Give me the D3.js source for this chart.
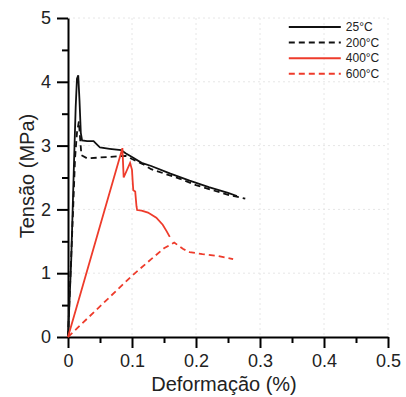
<!DOCTYPE html>
<html>
<head>
    <meta charset="utf-8">
    <title>Tensão x Deformação</title>
    <script src="https://d3js.org/d3.v7.min.js"></script>
    <style>
        body { margin: 0; background: #fff; }
        text { font-family: "Liberation Sans", Arial, sans-serif; }
    </style>
</head>
<body>
    <svg id="chart"></svg>

    <script>
        // curves: [deformação (%), tensão (MPa)]
        const s25 = [
            [0, 0], [0.005, 1.2], [0.009, 2.6], [0.012, 3.6], [0.014, 4.05], [0.016, 4.1],
            [0.018, 3.7], [0.02, 3.2], [0.022, 3.08], [0.03, 3.07], [0.04, 3.07], [0.045, 3.02],
            [0.05, 2.97], [0.065, 2.95], [0.083, 2.93], [0.09, 2.88], [0.1, 2.82], [0.115, 2.73],
            [0.13, 2.68], [0.16, 2.56], [0.19, 2.45], [0.22, 2.35], [0.25, 2.26], [0.264, 2.21]
        ];
        const s200 = [
            [0, 0], [0.004, 1.0], [0.008, 2.0], [0.011, 2.8], [0.014, 3.2], [0.017, 3.38],
            [0.019, 3.1], [0.021, 2.85], [0.03, 2.8], [0.06, 2.82], [0.09, 2.84], [0.1, 2.79],
            [0.117, 2.71], [0.13, 2.63], [0.175, 2.48], [0.2, 2.38], [0.253, 2.22], [0.277, 2.17]
        ];
        const s400 = [
            [0, 0], [0.085, 2.96], [0.087, 2.5], [0.097, 2.73], [0.1, 2.62], [0.101, 2.45],
            [0.102, 2.3], [0.105, 2.28], [0.107, 2.05], [0.108, 1.99], [0.115, 1.98],
            [0.125, 1.95], [0.138, 1.87], [0.148, 1.76], [0.154, 1.66], [0.159, 1.57]
        ];
        const s600 = [
            [0, 0], [0.05, 0.48], [0.1, 0.96], [0.13, 1.22], [0.15, 1.39], [0.166, 1.48],
            [0.18, 1.38], [0.19, 1.33], [0.21, 1.3], [0.235, 1.27], [0.258, 1.22]
        ];

        const seriesNames = ["25°C", "200°C", "400°C", "600°C"];
        const xTicks = [0, 0.1, 0.2, 0.3, 0.4, 0.5];
        const yTicks = [0, 1, 2, 3, 4, 5];

        const series = [
            { name: seriesNames[0], values: s25, color: "#111", dash: null },
            { name: seriesNames[1], values: s200, color: "#111", dash: "6,4" },
            { name: seriesNames[2], values: s400, color: "#ee3b2b", dash: null },
            { name: seriesNames[3], values: s600, color: "#ee3b2b", dash: "6,4" }
        ];

        const W = 406, H = 397;
        const margin = { top: 18, right: 18, bottom: 60, left: 68 };
        const width = W - margin.left - margin.right;
        const height = H - margin.top - margin.bottom;

        const svg = d3.select("#chart")
            .attr("width", W)
            .attr("height", H);

        const g = svg.append("g")
            .attr("transform", `translate(${margin.left},${margin.top})`);

        const x = d3.scaleLinear().domain([0, 0.5]).range([0, width]);
        const y = d3.scaleLinear().domain([0, 5]).range([height, 0]);

        // faint dotted grid
        g.append("g")
            .selectAll("line")
            .data(xTicks.slice(1))
            .join("line")
            .attr("x1", d => x(d)).attr("x2", d => x(d))
            .attr("y1", 0).attr("y2", height)
            .attr("stroke", "#e6e6e6")
            .attr("stroke-dasharray", "2,3");
        g.append("g")
            .selectAll("line")
            .data(yTicks.slice(1))
            .join("line")
            .attr("x1", 0).attr("x2", width)
            .attr("y1", d => y(d)).attr("y2", d => y(d))
            .attr("stroke", "#e6e6e6")
            .attr("stroke-dasharray", "2,3");

        // minor ticks
        g.append("g")
            .attr("transform", `translate(0,${height})`)
            .call(d3.axisBottom(x).tickValues(d3.range(0.05, 0.5, 0.1)).tickSize(6).tickFormat(""))
            .call(a => a.select(".domain").remove())
            .selectAll("line").attr("stroke-width", 2);
        g.append("g")
            .call(d3.axisLeft(y).tickValues(d3.range(0.5, 5, 1)).tickSize(6).tickFormat(""))
            .call(a => a.select(".domain").remove())
            .selectAll("line").attr("stroke-width", 2);

        // major axes
        const xAxis = g.append("g")
            .attr("transform", `translate(0,${height})`)
            .call(d3.axisBottom(x).tickValues(xTicks).tickSize(11).tickPadding(6)
                .tickFormat(d => d === 0 ? "0" : d3.format(".1f")(d)).tickSizeOuter(0));
        const yAxis = g.append("g")
            .call(d3.axisLeft(y).tickValues(yTicks).tickSize(11).tickPadding(6)
                .tickFormat(d3.format("d")).tickSizeOuter(0));

        [xAxis, yAxis].forEach(a => {
            a.select(".domain").attr("stroke-width", 2);
            a.selectAll(".tick line").attr("stroke-width", 2);
            a.selectAll("text")
                .attr("font-size", 18)
                .attr("fill", "#222")
                .style("font-family", "'Liberation Sans', Arial, sans-serif");
        });

        // curves
        const line = d3.line()
            .x(d => x(d[0]))
            .y(d => y(d[1]));

        g.selectAll(".curve")
            .data(series)
            .join("path")
            .attr("class", "curve")
            .attr("d", d => line(d.values))
            .attr("fill", "none")
            .attr("stroke", d => d.color)
            .attr("stroke-width", 1.8)
            .attr("stroke-dasharray", d => d.dash);

        // legend
        const legend = g.append("g")
            .attr("transform", `translate(${x(0.345)},${y(4.86)})`);
        const items = legend.selectAll("g")
            .data(series)
            .join("g")
            .attr("transform", (d, i) => `translate(0,${i * 15.6})`);
        items.append("line")
            .attr("x1", 0).attr("x2", 52)
            .attr("stroke", d => d.color)
            .attr("stroke-width", 2)
            .attr("stroke-dasharray", d => d.dash);
        items.append("text")
            .attr("x", 57)
            .attr("dy", "0.35em")
            .attr("font-size", 12)
            .attr("fill", "#222")
            .text(d => d.name);

        // axis titles
        svg.append("text")
            .attr("x", margin.left + x(0.25) - 4)
            .attr("y", 391)
            .attr("text-anchor", "middle")
            .attr("font-size", 20)
            .attr("fill", "#222")
            .text("Deformação (%)");

        svg.append("text")
            .attr("transform", `translate(34,176) rotate(-90)`)
            .attr("text-anchor", "middle")
            .attr("font-size", 20)
            .attr("fill", "#222")
            .text("Tensão (MPa)");
    </script>
</body>
</html>
